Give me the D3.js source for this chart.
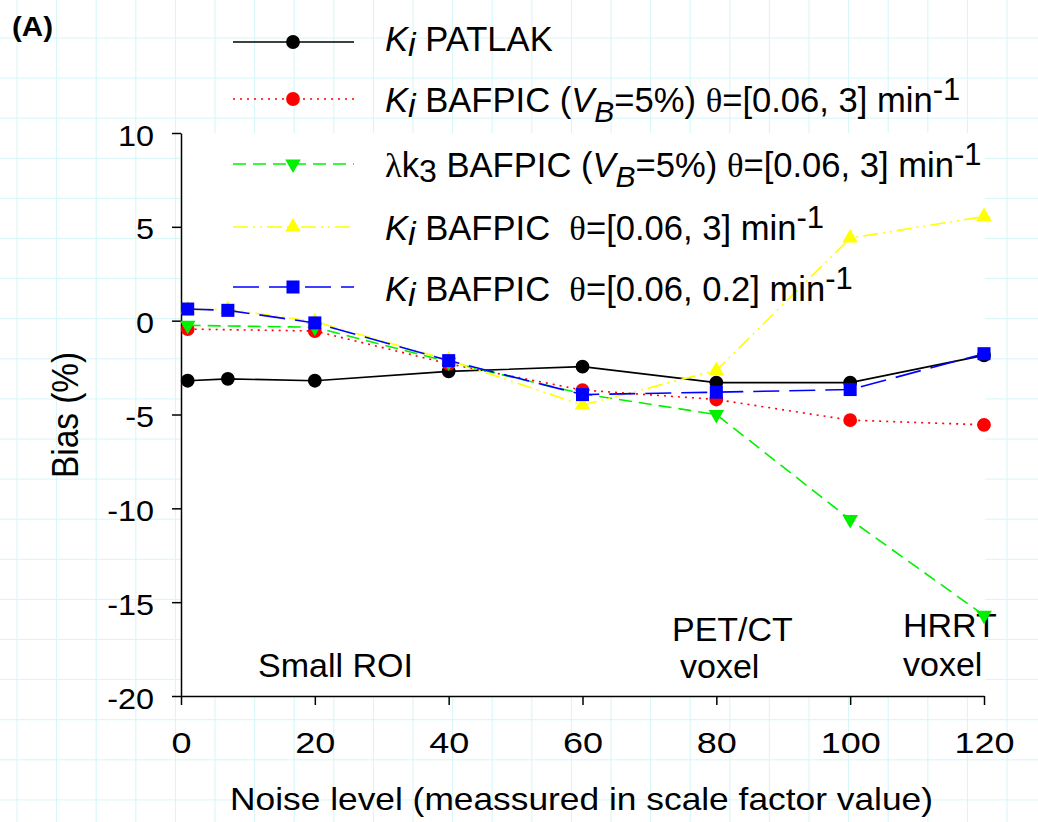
<!DOCTYPE html>
<html>
<head>
<meta charset="utf-8">
<script src="https://cdn.jsdelivr.net/npm/d3@7"></script>
<style>
  body { margin: 0; background: #fff; }
  svg { display: block; font-family: "Liberation Sans", Arial, sans-serif; }
</style>
</head>
<body>
<script>
// noise level (scale factor) for every column, null where a series has no point
let noiseLevels = [1, 7, 20, 40, 60, 80, 100, 120]
let kiPatlak     = [-3.2, -3.1, -3.2, -2.7, -2.45, -3.3, -3.3, -1.85]
let kiBafpicVb   = [-0.45, null, -0.55, -2.3, -3.7, -4.2, -5.3, -5.55]
let lk3BafpicVb  = [-0.25, null, -0.35, -2.2, -3.9, -5.0, -10.6, -15.7]
let kiBafpic3    = [0.6, 0.6, -0.05, -2.1, -4.5, -2.65, 4.4, 5.55]
let kiBafpic02   = [0.62, 0.55, -0.12, -2.13, -3.94, -3.81, -3.67, -1.76]
let xTicks = [0, 20, 40, 60, 80, 100, 120]
let yTicks = [10, 5, 0, -5, -10, -15, -20]

let w = 1038, h = 822
let plotL = 181, plotR = 984, plotT = 133, plotB = 696

let svg = d3.select("body").append("svg").attr("width", w).attr("height", h)

// stretch text sideways, the picture's lettering is wider than the font
function stretch(sel, k) {
  sel.each(function() {
    let l = this.getComputedTextLength()
    d3.select(this).attr("textLength", l * k).attr("lengthAdjust", "spacingAndGlyphs")
  })
}

// faint cyan paper grid behind everything
let grid = svg.append("g").attr("stroke", "#d6f6f8").attr("stroke-width", 1)
for (let x = 17; x < w; x += 39.6) grid.append("line").attr("x1", x).attr("x2", x).attr("y1", 0).attr("y2", h)
for (let y = 38; y < h; y += 40.1) grid.append("line").attr("x1", 0).attr("x2", w).attr("y1", y).attr("y2", y)
svg.append("rect").attr("x", plotL).attr("y", plotT).attr("width", plotR-plotL+1).attr("height", plotB-plotT).attr("fill", "#fff")

let xScale = d3.scaleLinear().domain([0, 120]).range([plotL, plotR])
let yScale = d3.scaleLinear().domain([-20, 10]).range([plotB, plotT])

let xAxis = svg.append("g").attr("transform", "translate(0," + plotB + ")")
    .call(d3.axisBottom(xScale).tickValues(xTicks).tickFormat(d => String(d))
      .tickSize(9).tickPadding(27).tickSizeOuter(0))
let yAxis = svg.append("g").attr("transform", "translate(" + plotL + ",0)")
    .call(d3.axisLeft(yScale).tickValues(yTicks).tickFormat(d => String(d))
      .tickSize(9).tickPadding(18).tickSizeOuter(0))
svg.selectAll(".tick text").attr("font-size", 30).attr("font-family", "Liberation Sans, Arial, sans-serif").attr("fill", "#000")
svg.selectAll(".domain, .tick line").attr("stroke", "#000").attr("stroke-width", 1.5)
yAxis.selectAll(".tick text").attr("dy", "0.4em")
stretch(xAxis.selectAll(".tick text"), 1.2)
stretch(yAxis.selectAll(".tick text"), 1.08)

svg.append("text").attr("x", 230).attr("y", 810).attr("font-size", 30.5)
    .attr("textLength", 703).attr("lengthAdjust", "spacingAndGlyphs")
    .text("Noise level (meassured in scale factor value)")
svg.append("text").attr("transform", "translate(78,415) rotate(-90)").attr("text-anchor", "middle")
    .attr("font-size", 37).attr("textLength", 126).attr("lengthAdjust", "spacingAndGlyphs").text("Bias (%)")
svg.append("text").attr("x", 12).attr("y", 36).attr("font-size", 27).attr("font-weight", "bold")
    .attr("textLength", 41).attr("lengthAdjust", "spacingAndGlyphs").text("(A)")

// annotations inside the plot, under the series
let notes = [
  {x: 258, y: 677, t: "Small ROI"},
  {x: 672, y: 641, t: "PET/CT"},
  {x: 680, y: 678, t: "voxel"},
  {x: 903, y: 637, t: "HRRT"},
  {x: 903, y: 676, t: "voxel"}
]
notes.forEach(n => svg.append("text").attr("x", n.x).attr("y", n.y).attr("font-size", 34).text(n.t))

let series = [
  {values: kiPatlak, color: "#000", dash: null, marker: "circle"},
  {values: kiBafpicVb, color: "#ff0000", dash: "2,5", marker: "circle"},
  {values: lk3BafpicVb, color: "#00f000", dash: "13,7", marker: "down"},
  {values: kiBafpic3, color: "#ffff00", dash: "15,5,2,5,2,5", marker: "up"},
  {values: kiBafpic02, color: "#0000ff", dash: "26,10", marker: "square"}
]

let symbols = {
  circle: d3.symbol().type(d3.symbolCircle).size(150),
  square: d3.symbol().type(d3.symbolSquare).size(170),
  up: d3.symbol().type(d3.symbolTriangle).size(105)
}
function markerPath(type) {
  if (type == "down") return symbols.up()
  return symbols[type]()
}
function markerTransform(type, x, y) {
  return "translate(" + x + "," + y + ")" + (type == "down" ? " rotate(180)" : "")
}

let line = d3.line().x(d => xScale(d[0])).y(d => yScale(d[1]))

series.forEach(s => {
  let pts = noiseLevels.map((x, i) => [x, s.values[i]]).filter(d => d[1] != null)
  svg.append("path").datum(pts).attr("d", line).attr("fill", "none")
      .attr("stroke", s.color).attr("stroke-width", 1.6).attr("stroke-dasharray", s.dash)
  svg.selectAll(null).data(pts).enter().append("path")
      .attr("d", markerPath(s.marker)).attr("fill", s.color)
      .attr("transform", d => markerTransform(s.marker, xScale(d[0]), yScale(d[1])))
})

// legend, drawn over the plot without a box
let theta = {t: "\u03b8", serif: true}
let legendText = [
  [{t: "K", it: true}, {t: "i", it: true, sub: 5, size: 34}, {t: " PATLAK"}],
  [{t: "K", it: true}, {t: "i", it: true, sub: 5, size: 34}, {t: " BAFPIC ("}, {t: "V", it: true},
    {t: "B", it: true, sub: 10, size: 30}, {t: "=5%) "}, theta, {t: "=[0.06, 3] min"}, {t: "-1", sub: -12, size: 31}],
  [{t: "\u03bb", serif: true}, {t: "k"}, {t: "3", sub: 5, size: 32}, {t: " BAFPIC ("}, {t: "V", it: true},
    {t: "B", it: true, sub: 10, size: 30}, {t: "=5%) "}, theta, {t: "=[0.06, 3] min"}, {t: "-1", sub: -12, size: 31}],
  [{t: "K", it: true}, {t: "i", it: true, sub: 5, size: 34}, {t: " BAFPIC  "}, theta, {t: "=[0.06, 3] min"}, {t: "-1", sub: -12, size: 31}],
  [{t: "K", it: true}, {t: "i", it: true, sub: 5, size: 34}, {t: " BAFPIC  "}, theta, {t: "=[0.06, 0.2] min"}, {t: "-1", sub: -12, size: 31}]
]
let legendLineY = [42, 99, 164, 227, 287]
let legendTextY = [51, 112, 177, 240, 301]

series.forEach((s, i) => {
  let g = svg.append("g")
  g.append("line").attr("x1", 233).attr("x2", 354).attr("y1", legendLineY[i]).attr("y2", legendLineY[i])
      .attr("stroke", s.color).attr("stroke-width", 1.6).attr("stroke-dasharray", s.dash)
  g.append("path").attr("d", markerPath(s.marker)).attr("fill", s.color)
      .attr("transform", markerTransform(s.marker, 293, legendLineY[i]))
  let t = g.append("text").attr("x", 385).attr("y", legendTextY[i]).attr("font-size", 34.6).style("white-space", "pre")
  let shift = 0
  legendText[i].forEach(p => {
    let want = p.sub || 0
    let sp = t.append("tspan").text(p.t).attr("dy", want - shift)
    shift = want
    if (p.it) sp.attr("font-style", "italic")
    if (p.serif) sp.attr("font-family", "Liberation Serif, serif")
    if (p.size) sp.attr("font-size", p.size)
  })
})
</script>
</body>
</html>
